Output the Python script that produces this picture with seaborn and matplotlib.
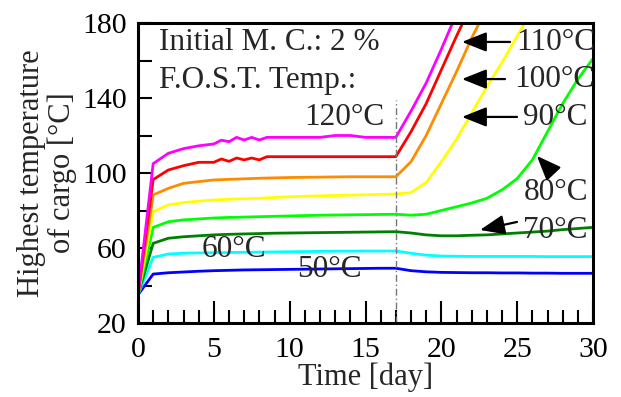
import numpy as np
import pandas as pd
import matplotlib
matplotlib.use("Agg")
import matplotlib.pyplot as plt
import seaborn as sns

# ---------------- data ----------------
days_fine = [0, 1, 2, 3, 4, 5, 5.5, 6, 6.5, 7, 7.5, 8, 8.5, 9, 10, 11, 12, 13, 14, 15, 16, 17]
temp_120_early = [35, 105, 110.5, 113, 114.5, 115.5, 117.5, 116.7, 119, 117.6, 119, 117.6, 119,
                  119, 119, 119, 119, 120, 120, 119, 119, 119]
temp_110_early = [35, 96.5, 101.6, 103.9, 105.7, 105.7, 107.5, 106.2, 108, 107, 108, 107, 108.7,
                  108.7, 108.7, 108.7, 108.7, 108.7, 108.7, 108.7, 108.7, 108.7]
days_120_late = [18, 19, 20, 21]
temp_120_late = [133, 148, 166, 185]
days_110_late = [18, 19, 20, 21, 22]
temp_110_late = [122, 137, 155, 173, 190]

days = list(range(0, 31))
temp_100 = [35, 88.3, 91.8, 94.5, 95.4, 96.3, 96.6, 96.9, 97.2, 97.4, 97.6, 97.7, 97.8, 97.9,
            98, 98, 98, 98, 106, 120, 137, 154, 172, 188]
temp_90 = [35, 79.4, 83, 84.2, 85, 85.6, 86, 86.3, 86.5, 87, 87.3, 87.6, 87.8, 88, 88.2, 88.4,
           88.6, 88.8, 89.5, 95, 106, 118, 132, 146, 159, 173, 187]
temp_80 = [35, 71, 74, 75, 75.5, 76, 76.3, 76.5, 76.7, 76.9, 77.1, 77.3, 77.5, 77.6, 77.7, 77.8,
           77.9, 78, 77.5, 78, 80, 82, 84, 86.5, 91, 97, 107, 122, 137, 150, 161]
temp_70 = [35, 62.5, 65.2, 66, 66.5, 67, 67.3, 67.5, 67.7, 67.9, 68, 68.1, 68.2, 68.3, 68.4, 68.5,
           68.6, 68.7, 68, 67, 66.5, 66.5, 66.8, 67, 67.5, 68, 68.5, 69, 69.8, 70.4, 71]
temp_60 = [35, 55, 56.8, 57.2, 57.4, 57.5, 57.6, 57.7, 57.8, 57.9, 58, 58.1, 58.2, 58.3, 58.3, 58.4,
           58.4, 58.4, 57.2, 56.2, 55.7, 55.6, 55.5, 55.5, 55.5, 55.5, 55.5, 55.4, 55.4, 55.4, 55.4]
temp_50 = [35, 46.1, 46.8, 47.2, 47.6, 47.9, 48.1, 48.3, 48.4, 48.5, 48.6, 48.7, 48.8, 48.9, 49, 49.1,
           49.2, 49.2, 47.9, 47.3, 47, 46.9, 46.8, 46.8, 46.7, 46.7, 46.6, 46.6, 46.5, 46.5, 46.5]

fost_labels = ["50°C", "60°C", "70°C", "80°C", "90°C", "100°C", "110°C", "120°C"]
colors = ["#0000ff", "#00ffff", "#008000", "#00ff00", "#ffff00", "#ff8c00", "#ff0000", "#ff00ff"]
switch_day = 17
switch_top = 139

x_ticks = [0, 5, 10, 15, 20, 25, 30]
y_ticks = [20, 60, 100, 140, 180]

# ---------------- build long table ----------------
series = {
    "50°C": (days[:len(temp_50)], temp_50),
    "60°C": (days[:len(temp_60)], temp_60),
    "70°C": (days[:len(temp_70)], temp_70),
    "80°C": (days[:len(temp_80)], temp_80),
    "90°C": (days[:len(temp_90)], temp_90),
    "100°C": (days[:len(temp_100)], temp_100),
    "110°C": (days_fine + days_110_late, temp_110_early + temp_110_late),
    "120°C": (days_fine + days_120_late, temp_120_early + temp_120_late),
}
frames = []
for name, (d, t) in series.items():
    frames.append(pd.DataFrame({"day": d, "temp": t, "fost": name}))
df = pd.concat(frames, ignore_index=True)

# ---------------- plot ----------------
sns.set_theme(style="white")
plt.rcParams["font.family"] = ["Liberation Serif", "DejaVu Serif"]
plt.rcParams["mathtext.fontset"] = "stix"

fig = plt.figure(figsize=(6.21, 3.97), dpi=100)
ax = fig.add_axes([138 / 621, 1 - 323 / 397, 455 / 621, 300 / 397])

sns.lineplot(data=df, x="day", y="temp", hue="fost", hue_order=fost_labels,
             palette=dict(zip(fost_labels, colors)), estimator=None, sort=False,
             linewidth=2.0, legend=False, ax=ax)

ax.vlines(switch_day, 20, switch_top, colors="#777777", linestyles=(0, (5, 2, 1, 2)), linewidth=1.0)

ax.set_xlim(0, 30)
ax.set_ylim(20, 180)
ax.set_xticks(x_ticks)
ax.set_yticks(y_ticks)
ax.set_xticks(np.arange(0, 31, 1), minor=True)
ax.set_yticks(np.arange(20, 181, 20), minor=True)
ax.tick_params(axis="both", which="both", direction="in", top=False, right=False,
               bottom=True, left=True,
               labelsize=21.5, width=1.5, color="black", labelcolor="black")
ax.tick_params(axis="x", which="major", length=16, pad=10)
ax.tick_params(axis="x", which="minor", length=9.5)
ax.tick_params(axis="y", which="both", length=10, pad=8)
for s in ax.spines.values():
    s.set_visible(True)
    s.set_linewidth(2.2)
    s.set_color("black")

ax.set_xlabel("Time [day]", fontsize=22, labelpad=0)
ax.set_ylabel("Highest temperature\nof cargo [°C]", fontsize=22, linespacing=1.05)

fs = 22.5
ax.text(1.38, 165.6, "Initial M. C.: 2 %", fontsize=fs, va="baseline", ha="left")
ax.text(1.38, 145.3, "F.O.S.T. Temp.:", fontsize=fs, va="baseline", ha="left")
ax.text(16.28, 125.6, "120°C", fontsize=fs, va="baseline", ha="right")
ax.text(30.13, 165.6, "110°C", fontsize=fs, va="baseline", ha="right", clip_on=False)
ax.text(30.13, 145.9, "100°C", fontsize=fs, va="baseline", ha="right", clip_on=False)
ax.text(29.67, 125.6, "90°C", fontsize=fs, va="baseline", ha="right")
ax.text(29.67, 85.6, "80°C", fontsize=fs, va="baseline", ha="right")
ax.text(29.67, 65.3, "70°C", fontsize=fs, va="baseline", ha="right")
ax.text(4.22, 55.2, "60°C", fontsize=fs, va="baseline", ha="left")
ax.text(10.48, 44.5, "50°C", fontsize=fs, va="baseline", ha="left")

arrows = [((24.53, 169.9), (21.36, 169.9)),
          ((24.2, 150.1), (21.36, 150.1)),
          ((24.99, 129.9), (21.36, 129.9)),
          ((27.36, 100.0), (26.3, 109.1)),
          ((24.99, 73.9), (22.55, 69.6))]
for tail, tip in arrows:
    ax.annotate("", xy=tip, xytext=tail,
                arrowprops=dict(arrowstyle="-|>,head_length=1.0,head_width=0.4",
                                mutation_scale=15, color="black", lw=1.6,
                                shrinkA=0, shrinkB=0))

fig.savefig("out.png", dpi=100)
